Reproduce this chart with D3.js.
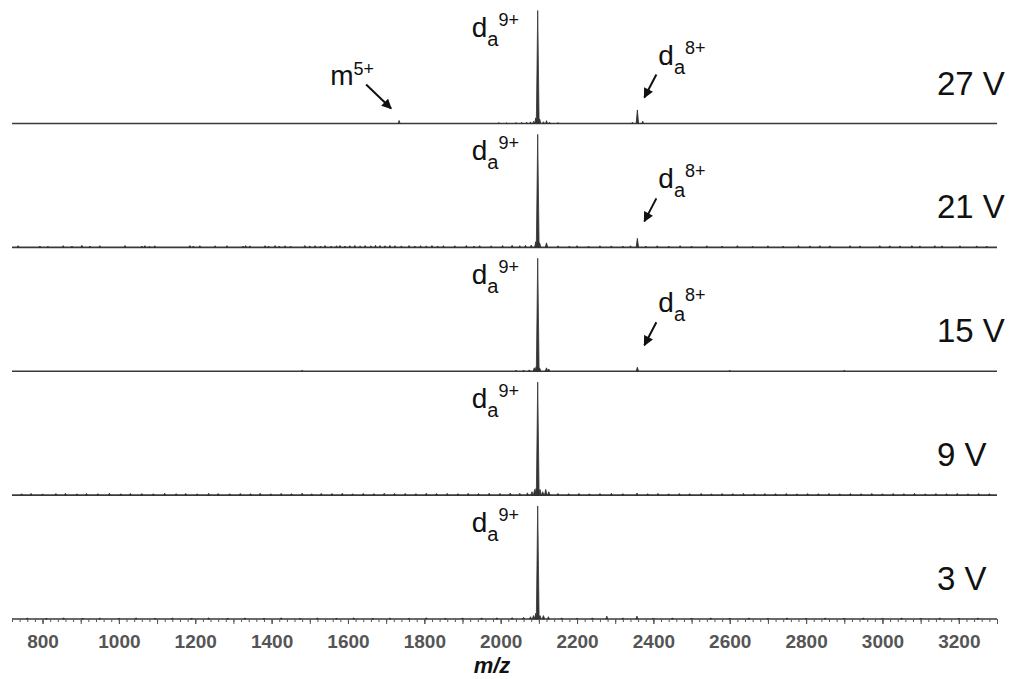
<!DOCTYPE html>
<html>
<head>
<meta charset="utf-8">
<script src="https://cdn.jsdelivr.net/npm/d3@7"></script>
<style>
  html, body { margin: 0; padding: 0; background: #fff; }
  svg { display: block; font-family: "Liberation Sans", Arial, sans-serif; }
</style>
</head>
<body>
<svg id="chart" width="1012" height="679"></svg>
<script>
// Stacked mass spectra recorded at five collision voltages (top to bottom).
const voltages = ["27 V", "21 V", "15 V", "9 V", "3 V"];
const mzDomain = [720, 3300];
const mzTicks = [800, 1000, 1200, 1400, 1600, 1800, 2000, 2200, 2400, 2600, 2800, 3000, 3200];
const axisTitle = "m/z";

// Peaks per spectrum: [m/z, relative intensity in % of the base peak]
const peaks27 = [
  [1734, 2.6], [1995, 0.8], [2015, 0.6], [2040, 0.8], [2055, 1], [2068, 1.2], [2078, 1.4],
  [2086, 1.8], [2092, 5], [2097, 100], [2102, 4], [2112, 1.5], [2120, 2.5], [2128, 1.2],
  [2150, 0.8], [2345, 1], [2358, 12], [2372, 2]
];
const peaks21 = [
  [736, 1.5], [793, 1.2], [814, 1], [854, 1.5], [877, 1.2], [903, 1.8], [924, 1.2], [950, 1.5],
  [1016, 1.6], [1060, 1.2], [1068, 1.5], [1080, 1], [1094, 1.4], [1186, 1.6], [1195, 1.2],
  [1212, 1.5], [1252, 1.4], [1283, 1.5], [1325, 1.2], [1332, 1.6], [1343, 1.3], [1383, 1.5],
  [1392, 1.2], [1409, 1.6], [1420, 1.2], [1435, 1.4], [1450, 1.1], [1487, 1.6], [1500, 1.3],
  [1514, 1.5], [1528, 1.2], [1540, 1.6], [1556, 1.2], [1570, 1.4], [1579, 1.7], [1592, 1.2],
  [1605, 1.5], [1618, 1.7], [1632, 1.3], [1645, 1.6], [1660, 1.4], [1672, 1.8], [1684, 1.6],
  [1697, 1.4], [1710, 1.7], [1723, 1.5], [1740, 1.3], [1760, 1.6], [1775, 1.2], [1790, 1.5],
  [1805, 1.3], [1820, 1.6], [1835, 1.2], [1850, 1.5], [1880, 1.4], [1910, 1.6], [1930, 1.2],
  [1945, 1.5], [1975, 1.4], [2005, 1.6], [2030, 1.8], [2050, 1.5], [2065, 1.8], [2080, 2],
  [2092, 5], [2097, 100], [2102, 4], [2120, 4], [2150, 1.4], [2180, 1.2], [2200, 1.5],
  [2230, 1.2], [2260, 1.4], [2290, 1.3], [2320, 1.2], [2340, 1.4], [2358, 8], [2380, 1.2],
  [2410, 1.4], [2440, 1.2], [2470, 1.5], [2500, 1.2], [2540, 1.4], [2580, 1.2], [2620, 1.5],
  [2660, 1.2], [2700, 1.4], [2740, 1.2], [2780, 1.5], [2810, 1.3], [2836, 1.5], [2862, 1.4],
  [2915, 1.5], [2941, 1.3], [2993, 1.5], [3019, 1.4], [3046, 1.3], [3077, 1.5], [3098, 1.3],
  [3137, 1.5], [3156, 1.3], [3203, 1.4], [3247, 1.3], [3273, 1.2]
];
const peaks15 = [
  [1480, 0.7], [2040, 0.8], [2060, 1], [2075, 1.2], [2088, 3], [2093, 4], [2097, 100],
  [2102, 3], [2120, 3], [2126, 2], [2358, 3.5], [2600, 0.6], [2900, 0.7]
];
const peaks9 = [
  [745, 1.2], [770, 1.5], [800, 1.1], [835, 1.4], [860, 1.6], [890, 1.2], [915, 1.5],
  [945, 1.3], [975, 1.6], [1005, 1.2], [1030, 1.5], [1060, 1.4], [1090, 1.2], [1120, 1.6],
  [1150, 1.3], [1175, 1.5], [1205, 1.2], [1235, 1.6], [1260, 1.4], [1290, 1.2], [1318, 1.5],
  [1345, 1.3], [1370, 1.6], [1398, 1.2], [1425, 1.5], [1452, 1.3], [1480, 1.7], [1505, 1.2],
  [1530, 1.5], [1558, 1.4], [1585, 1.6], [1612, 1.2], [1640, 1.5], [1668, 1.3], [1695, 1.6],
  [1722, 1.4], [1750, 1.5], [1778, 1.3], [1805, 1.6], [1832, 1.4], [1860, 1.5], [1888, 1.3],
  [1915, 1.6], [1942, 1.4], [1970, 1.7], [1998, 1.5], [2025, 1.8], [2050, 1.6], [2070, 2],
  [2082, 3], [2089, 5], [2093, 6], [2097, 100], [2103, 5], [2110, 3], [2118, 5], [2126, 3],
  [2150, 1.5], [2178, 1.3], [2205, 1.5], [2232, 1.2], [2260, 1.4], [2290, 1.6], [2320, 1.3],
  [2357, 1.8], [2385, 1.3], [2412, 1.5], [2440, 1.2], [2468, 1.4], [2495, 1.3], [2525, 1.5],
  [2552, 1.2], [2580, 1.4], [2608, 1.3], [2636, 1.5], [2664, 1.2], [2692, 1.4], [2720, 1.3],
  [2748, 1.5], [2776, 1.2], [2804, 1.4], [2832, 1.3], [2860, 1.5], [2888, 1.2], [2916, 1.4],
  [2944, 1.3], [2972, 1.5], [3000, 1.2], [3028, 1.4], [3056, 1.3], [3084, 1.5], [3112, 1.2],
  [3140, 1.4], [3168, 1.3], [3196, 1.5], [3224, 1.2], [3252, 1.4], [3280, 1.3]
];
const peaks3 = [
  [760, 1], [810, 0.9], [855, 1.1], [905, 0.9], [950, 1], [1000, 0.9], [1045, 1.1],
  [1095, 0.9], [1140, 1], [1190, 0.9], [1235, 1.1], [1285, 0.9], [1330, 1], [1380, 0.9],
  [1425, 1.1], [1475, 0.9], [1520, 1], [1570, 0.9], [1615, 1.1], [1665, 0.9], [1710, 1],
  [1760, 0.9], [1805, 1.1], [1855, 0.9], [1900, 1], [1950, 1], [1990, 1.1], [2030, 1.2],
  [2060, 1.5], [2078, 2], [2086, 3], [2092, 5], [2097, 100], [2103, 3], [2112, 3],
  [2125, 2], [2160, 1], [2200, 0.9], [2240, 1], [2278, 2.5], [2320, 1], [2357, 2.5],
  [2400, 0.9], [2450, 1], [2500, 0.9], [2550, 1], [2600, 0.9], [2650, 1], [2700, 0.9],
  [2750, 1], [2800, 0.9], [2850, 1], [2900, 0.9], [2950, 1], [3000, 0.9], [3050, 1],
  [3100, 0.9], [3150, 1], [3200, 0.9], [3250, 1]
];
const spectra = [peaks27, peaks21, peaks15, peaks9, peaks3];

// Ion annotations: spectrum index, label parts and the m/z of the labelled peak
const ionLabels = [
  { spectrum: 0, base: "d", sub: "a", sup: "9+", mz: 2097 },
  { spectrum: 1, base: "d", sub: "a", sup: "9+", mz: 2097 },
  { spectrum: 2, base: "d", sub: "a", sup: "9+", mz: 2097 },
  { spectrum: 3, base: "d", sub: "a", sup: "9+", mz: 2097 },
  { spectrum: 4, base: "d", sub: "a", sup: "9+", mz: 2097 },
  { spectrum: 0, base: "d", sub: "a", sup: "8+", mz: 2358 },
  { spectrum: 1, base: "d", sub: "a", sup: "8+", mz: 2358 },
  { spectrum: 2, base: "d", sub: "a", sup: "8+", mz: 2358 },
  { spectrum: 0, base: "m", sub: "", sup: "5+", mz: 1734 }
];
const basePeakMz = 2097;

const svg = d3.select("#chart");

const x = d3.scaleLinear().domain(mzDomain).range([12, 997]);
// baseline of each stacked spectrum
const baseY = d3.scaleLinear().domain([0, voltages.length - 1]).range([123.5, 619]);
const heightPx = 113; // pixel height of a 100 % peak

function yOf(i) {
  return d3.scaleLinear().domain([0, 100]).range([baseY(i), baseY(i) - heightPx]);
}

const ink = "#333";

spectra.forEach((peaks, i) => {
  const y = yOf(i);
  const g = svg.append("g").attr("class", "spectrum");
  // flat baseline across the full m/z window
  g.append("line")
    .attr("x1", x(mzDomain[0])).attr("x2", x(mzDomain[1]))
    .attr("y1", y(0)).attr("y2", y(0))
    .attr("stroke", "#3a3a3a").attr("stroke-width", 1.6);
  // each peak drawn as a narrow stick
  g.selectAll("path.peak").data(peaks).join("path")
    .attr("class", "peak")
    .attr("d", d => {
      const cx = x(d[0]);
      const w = d[1] >= 50 ? 1.4 : (d[1] >= 3 ? 1.2 : 0.9);
      return `M${cx - w},${y(0)}L${cx},${y(d[1])}L${cx + w},${y(0)}Z`;
    })
    .attr("fill", ink)
    .attr("stroke", ink)
    .attr("stroke-width", d => d[1] >= 50 ? 0.8 : 0.9)
    .attr("stroke-linejoin", "miter");

  // voltage label
  svg.append("text")
    .attr("x", 937).attr("y", y(0) - 29)
    .attr("font-size", 33).attr("fill", "#111")
    .text(voltages[i]);
});

// arrow head definition
svg.append("defs").append("marker")
  .attr("id", "head")
  .attr("viewBox", "0 0 10 10")
  .attr("refX", 9).attr("refY", 5)
  .attr("markerWidth", 11).attr("markerHeight", 10)
  .attr("markerUnits", "userSpaceOnUse")
  .attr("orient", "auto")
  .append("path").attr("d", "M0,0L10,5L0,10Z").attr("fill", "#111");

ionLabels.forEach(lab => {
  const y = yOf(lab.spectrum);
  const px = x(lab.mz);
  const peak = spectra[lab.spectrum].find(p => p[0] === lab.mz);
  let tx, ty, arrow = null;
  if (lab.mz === basePeakMz) {
    tx = px - 66; ty = y(peak[1]) + 26;
  } else if (lab.mz > basePeakMz) {
    tx = px + 21; ty = y(0) - 59;
    arrow = [px + 19, y(0) - 49, px + 7, y(0) - 26];
  } else {
    tx = px - 69; ty = y(0) - 39;
    arrow = [px - 33, y(0) - 39, px - 8, y(0) - 15];
  }
  const t = svg.append("text").attr("x", tx).attr("y", ty).attr("fill", "#111");
  t.append("tspan").attr("font-size", 28).text(lab.base);
  if (lab.sub) {
    t.append("tspan").attr("font-size", 20).attr("dy", 9).text(lab.sub);
    t.append("tspan").attr("font-size", 18).attr("dy", -20).text(lab.sup);
  } else {
    t.append("tspan").attr("font-size", 18).attr("dy", -10).text(lab.sup);
  }
  if (arrow) {
    svg.append("line")
      .attr("x1", arrow[0]).attr("y1", arrow[1])
      .attr("x2", arrow[2]).attr("y2", arrow[3])
      .attr("stroke", "#111").attr("stroke-width", 2)
      .attr("marker-end", "url(#head)");
  }
});

// m/z axis under the lowest spectrum
const axisY = baseY(voltages.length - 1);
const minorAxis = d3.axisBottom(x).tickValues(d3.range(720, 3301, 20)).tickSize(3).tickFormat("");
const midAxis = d3.axisBottom(x).tickValues(d3.range(800, 3301, 100)).tickSize(5).tickFormat("");
const mainAxis = d3.axisBottom(x).tickValues(mzTicks).tickSize(5).tickPadding(11).tickFormat(d3.format("d"));

[minorAxis, midAxis, mainAxis].forEach(ax => {
  const g = svg.append("g").attr("transform", `translate(0,${axisY})`).call(ax);
  g.select(".domain").remove();
  g.selectAll(".tick line").attr("stroke", "#555").attr("stroke-width", 1);
  g.selectAll(".tick text")
    .attr("font-family", "'Liberation Sans', Arial, sans-serif")
    .attr("font-size", 19).attr("font-weight", "bold").attr("fill", "#555");
});

svg.append("text")
  .attr("x", 492).attr("y", 673)
  .attr("text-anchor", "middle")
  .attr("font-size", 22).attr("font-weight", "bold").attr("font-style", "italic")
  .attr("fill", "#111")
  .text(axisTitle);
</script>
</body>
</html>
